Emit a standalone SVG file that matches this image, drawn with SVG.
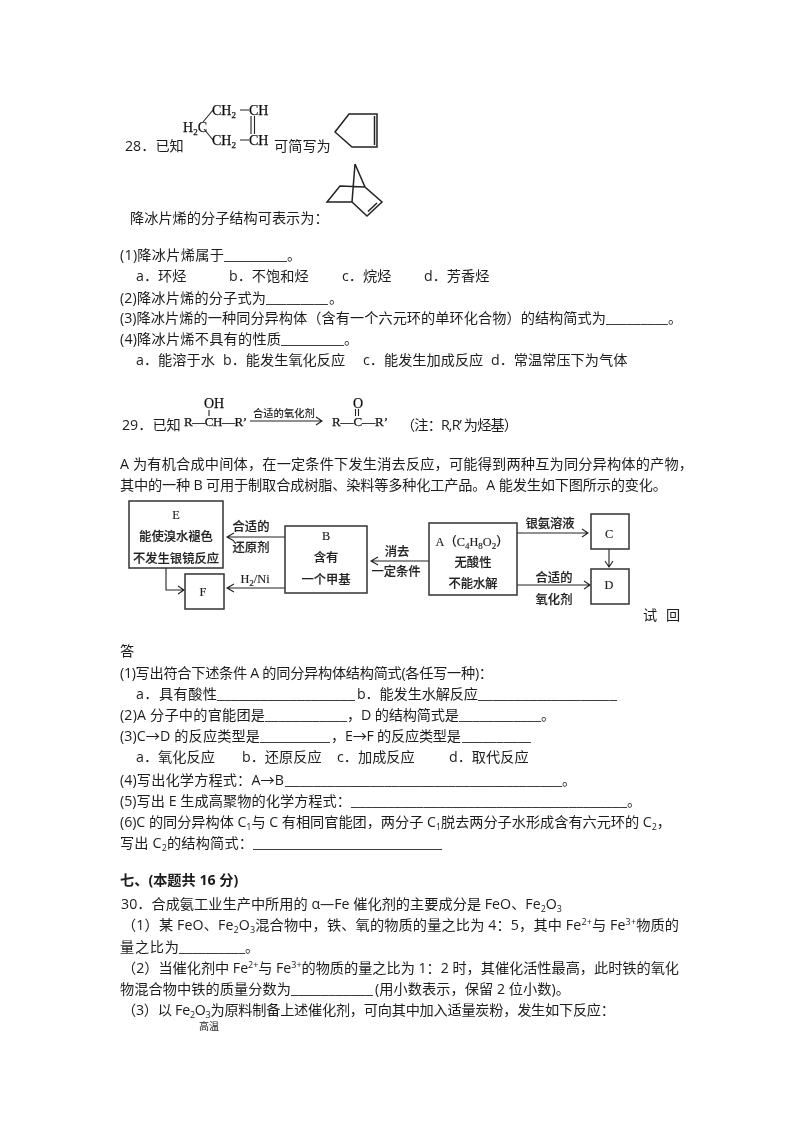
<svg xmlns="http://www.w3.org/2000/svg" width="800" height="1132" viewBox="0 0 800 1132">
<style>
text{font-family:"Open Sans","Noto Sans CJK SC",sans-serif;font-size:14.2px;fill:#1c1c1c}
.sub{font-size:9px;baseline-shift:-3px}
.sup{font-size:9px;baseline-shift:5px}
.s{font-family:"Liberation Serif","Noto Sans CJK SC",serif;font-size:14px;fill:#111;stroke:#111;stroke-width:.25}
.n{font-family:"Liberation Serif","Noto Sans CJK SC",serif;font-size:12.3px;fill:#222;font-weight:500}
.b{font-family:"Liberation Serif","Noto Sans CJK SC",serif;font-size:12.3px;fill:#222;text-anchor:middle;font-weight:500;stroke:#222;stroke-width:.15}
.l{fill:none;stroke:#222;stroke-width:1.1}
.k{fill:none;stroke:#222;stroke-width:1.5;stroke-linejoin:miter}
.box{fill:#fff;stroke:#333;stroke-width:1.5}
.scan{filter:url(#scan)}
.soft{filter:url(#soft)}
</style>
<defs>
<filter id="scan" x="-5%" y="-5%" width="110%" height="110%"><feGaussianBlur stdDeviation="0.55"/></filter>
<filter id="soft" x="0" y="0" width="100%" height="100%" filterUnits="objectBoundingBox"><feGaussianBlur stdDeviation="0.3"/></filter>
</defs>
<rect width="800" height="1132" fill="#fff"/>
<g class="soft">
<text x="125" y="151">28．已知</text>
<text x="274" y="151">可简写为</text>
<text x="130" y="223">降冰片烯的分子结构可表示为：</text>
<text x="120" y="260" textLength="104">(1)降冰片烯属于</text><text x="224" y="260" textLength="63" lengthAdjust="spacingAndGlyphs">_________</text><text x="287" y="260">。</text>
<text x="136" y="281">a．环烃</text><text x="229" y="281">b．不饱和烃</text><text x="342" y="281">c．烷烃</text><text x="424" y="281">d．芳香烃</text>
<text x="120" y="303" textLength="146">(2)降冰片烯的分子式为</text><text x="266" y="303" textLength="62" lengthAdjust="spacingAndGlyphs">_________</text><text x="329" y="303">。</text>
<text x="120" y="323" textLength="486">(3)降冰片烯的一种同分异构体（含有一个六元环的单环化合物）的结构简式为</text><text x="606" y="323" textLength="62" lengthAdjust="spacingAndGlyphs">_________</text><text x="668" y="323">。</text>
<text x="120" y="344" textLength="161">(4)降冰片烯不具有的性质</text><text x="281" y="344" textLength="63" lengthAdjust="spacingAndGlyphs">_________</text><text x="344" y="344">。</text>
<text x="136" y="365">a．能溶于水</text><text x="223" y="365">b．能发生氧化反应</text><text x="363" y="365">c．能发生加成反应</text><text x="491" y="365">d．常温常压下为气体</text>
<text x="122" y="430">29．已知</text>
<text x="401" y="430" textLength="117">（注：R,R’ 为烃基）</text>
<text x="120" y="469" textLength="573">A 为有机合成中间体，在一定条件下发生消去反应，可能得到两种互为同分异构体的产物，</text>
<text x="120" y="490" textLength="547">其中的一种 B 可用于制取合成树脂、染料等多种化工产品。A 能发生如下图所示的变化。</text>
<text x="643" y="620">试</text><text x="666" y="620">回</text>
<text x="120" y="656">答</text>
<text x="120" y="678" textLength="373">(1)写出符合下述条件 A 的同分异构体结构简式(各任写一种)：</text>
<text x="136" y="699" textLength="81">a．具有酸性</text><text x="217" y="699" textLength="138" lengthAdjust="spacingAndGlyphs">___________________</text><text x="357" y="699" textLength="121">b．能发生水解反应</text><text x="478" y="699" textLength="139" lengthAdjust="spacingAndGlyphs">___________________</text>
<text x="120" y="720" textLength="145">(2)A 分子中的官能团是</text><text x="265" y="720" textLength="82" lengthAdjust="spacingAndGlyphs">____________</text><text x="347" y="720">，</text><text x="361" y="720" textLength="98">D 的结构简式是</text><text x="459" y="720" textLength="82" lengthAdjust="spacingAndGlyphs">____________</text><text x="541" y="720">。</text>
<text x="120" y="741" textLength="140">(3)C→D 的反应类型是</text><text x="260" y="741" textLength="70" lengthAdjust="spacingAndGlyphs">__________</text><text x="331" y="741">，</text><text x="345" y="741" textLength="116">E→F 的反应类型是</text><text x="462" y="741" textLength="69" lengthAdjust="spacingAndGlyphs">__________</text>
<text x="136" y="762">a．氧化反应</text><text x="242" y="762">b．还原反应</text><text x="337" y="762">c．加成反应</text><text x="449" y="762">d．取代反应</text>
<text x="120" y="785" textLength="164">(4)写出化学方程式：A→B</text><text x="285" y="785" textLength="277" lengthAdjust="spacingAndGlyphs">_______________________________________</text><text x="562" y="785">。</text>
<text x="120" y="806" textLength="231">(5)写出 E 生成高聚物的化学方程式：</text><text x="351" y="806" textLength="276" lengthAdjust="spacingAndGlyphs">______________________________________</text><text x="627" y="806">。</text>
<text x="120" y="827" textLength="551">(6)C 的同分异构体 C<tspan class="sub">1</tspan>与 C 有相同官能团，两分子 C<tspan class="sub">1</tspan>脱去两分子水形成含有六元环的 C<tspan class="sub">2</tspan>，</text>
<text x="120" y="848" textLength="133">写出 C<tspan class="sub">2</tspan>的结构简式：</text><text x="253" y="848" textLength="189" lengthAdjust="spacingAndGlyphs">___________________________</text>
<text x="120" y="885" font-weight="700">七、(本题共 16 分)</text>
<text x="121" y="909" textLength="441">30．合成氨工业生产中所用的 α—Fe 催化剂的主要成分是 FeO、Fe<tspan class="sub">2</tspan>O<tspan class="sub">3</tspan></text>
<text x="122" y="930" textLength="557">（1）某 FeO、Fe<tspan class="sub">2</tspan>O<tspan class="sub">3</tspan>混合物中，铁、氧的物质的量之比为 4：5，其中 Fe<tspan class="sup">2+</tspan>与 Fe<tspan class="sup">3+</tspan>物质的</text>
<text x="120" y="952" textLength="59">量之比为</text><text x="179" y="952" textLength="66" lengthAdjust="spacingAndGlyphs">__________</text><text x="245" y="952">。</text>
<text x="122" y="973" textLength="557">（2）当催化剂中 Fe<tspan class="sup">2+</tspan>与 Fe<tspan class="sup">3+</tspan>的物质的量之比为 1：2 时，其催化活性最高，此时铁的氧化</text>
<text x="120" y="994" textLength="171">物混合物中铁的质量分数为</text><text x="291" y="994" textLength="82" lengthAdjust="spacingAndGlyphs">___________</text><text x="375" y="994" textLength="195">(用小数表示，保留 2 位小数)。</text>
<text x="122" y="1015" textLength="493">（3）以 Fe<tspan class="sub">2</tspan>O<tspan class="sub">3</tspan>为原料制备上述催化剂，可向其中加入适量炭粉，发生如下反应：</text>
<text x="199" y="1030" style="font-size:10px">高温</text>
</g>
<g class="scan">
<g id="s1">
<text class="s" x="212" y="115">CH<tspan class="sub">2</tspan></text><text class="s" x="249" y="115">CH</text>
<text class="s" x="183" y="132">H<tspan class="sub">2</tspan>C</text>
<text class="s" x="212" y="145">CH<tspan class="sub">2</tspan></text><text class="s" x="249" y="145">CH</text>
<path class="l" d="M240 110H249M240 140H249M213 110L203 122M204 129L213 140M251 116V134M254.500 116V134"/>
</g>
<path id="s2" class="k" d="M349 114H377V147H352L335 132Z M374.500 116V145"/>
<path id="s3" class="k" d="M355 164L365 187L382 202L367 216L352 202H327L340 186L365 187M355 164L352 202M368 211.500L377 203"/>
<g id="s4">
<text class="s" x="204" y="408">OH</text>
<text class="s" x="184" y="426" textLength="63" style="font-size:13px">R—CH—R’</text>
<path class="l" d="M209 410V416M250 421H322M316 417L322 421L316 425"/>
<text class="n" x="253" y="417" style="font-size:10.300px">合适的氧化剂</text>
<text class="s" x="332" y="426" textLength="56" style="font-size:13px">R—C—R’</text>
<text class="s" x="353" y="408">O</text>
<path class="l" d="M355.500 409V416M358.500 409V416"/>
</g>
<g id="connectors">
<path class="l" d="M285 537H227M234 533L227 537L234 541M285 588H227M234 584L227 588L234 592M166 568V590H184M178 586L184 590L178 594M429 561H371M378 557L371 561L378 565M517 533H588M582 529L588 533L582 537M517 585H590M584 581L590 585L584 589M609 549V567M605 561L609 567L613 561"/>
</g>
<g id="E"><rect class="box" x="129" y="501" width="94" height="67"/><text class="b" x="176" y="519">E</text><text class="b" x="176" y="541">能使溴水褪色</text><text class="b" x="176" y="563">不发生银镜反应</text></g>
<g id="F"><rect class="box" x="185" y="574" width="39" height="35"/><text class="b" x="203" y="596">F</text></g>
<g id="B"><rect class="box" x="285" y="526" width="82" height="67"/><text class="b" x="326" y="540">B</text><text class="b" x="326" y="562">含有</text><text class="b" x="326" y="584">一个甲基</text></g>
<g id="A"><rect class="box" x="429" y="523" width="88" height="72"/><text class="b" x="472" y="546">A（C<tspan class="sub">4</tspan>H<tspan class="sub">8</tspan>O<tspan class="sub">2</tspan>）</text><text class="b" x="473" y="567">无酸性</text><text class="b" x="473" y="588">不能水解</text></g>
<g id="C"><rect class="box" x="591" y="514" width="38" height="35"/><text class="b" x="609" y="538">C</text></g>
<g id="D"><rect class="box" x="591" y="569" width="38" height="35"/><text class="b" x="609" y="589">D</text></g>
<g id="labels">
<text class="b" x="251" y="531">合适的</text><text class="b" x="251" y="552">还原剂</text><text class="b" x="255" y="583">H<tspan class="sub">2</tspan>/Ni</text>
<text class="b" x="397" y="556">消去</text><text class="b" x="396" y="576">一定条件</text>
<text class="b" x="550" y="528">银氨溶液</text><text class="b" x="554" y="582">合适的</text><text class="b" x="554" y="604">氧化剂</text>
</g>
</g>
</svg>
